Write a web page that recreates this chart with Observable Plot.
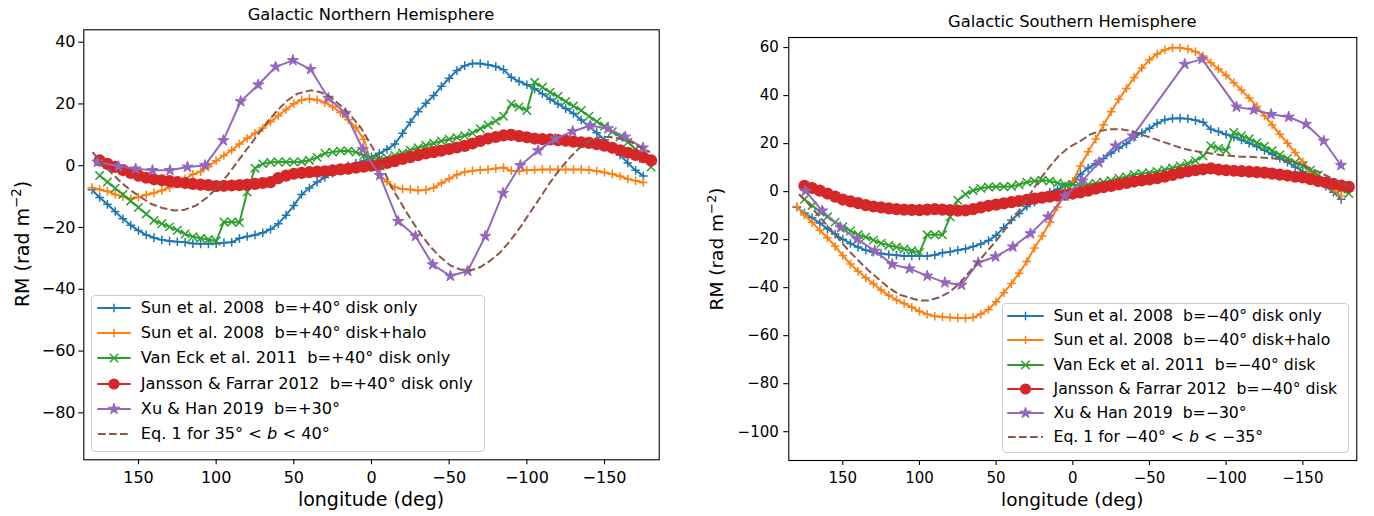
<!DOCTYPE html>
<html>
<head>
<meta charset="utf-8">
<script src="https://cdn.jsdelivr.net/npm/d3@7"></script>
<script src="https://cdn.jsdelivr.net/npm/@observablehq/plot@0.6"></script>
<style>
body{margin:0;background:#fff;font-family:"DejaVu Sans",sans-serif;}
#wrap{position:relative;width:1374px;height:516px;overflow:hidden;background:#fff;}
#wrap svg.plot{position:absolute;top:0;}
.txt{position:absolute;white-space:pre;color:#000;font-family:"DejaVu Sans",sans-serif;}
.legend{position:absolute;background:rgba(255,255,255,0.8);border:1px solid #cccccc;border-radius:4px;box-sizing:border-box;}
.legend svg{position:absolute;overflow:visible;}
</style>
</head>
<body>
<div id="wrap"></div>
<script>
// ---------- data ----------
const lonA = [180,175,170,165,160,155,150,145,140,135,130,125,120,115,110,105,100,95,90,85,80,75,70,65,60,55,50,45,40,35,30,25,20,15,10,5,0,-5,-10,-15,-20,-25,-30,-35,-40,-45,-50,-55,-60,-65,-70,-75,-80,-85,-90,-95,-100,-105,-110,-115,-120,-125,-130,-135,-140,-145,-150,-155,-160,-165,-170,-175];
const lonB = [175,170,165,160,155,150,145,140,135,130,125,120,115,110,105,100,95,90,85,80,75,70,65,60,55,50,45,40,35,30,25,20,15,10,5,0,-5,-10,-15,-20,-25,-30,-35,-40,-45,-50,-55,-60,-65,-70,-75,-80,-85,-90,-95,-100,-105,-110,-115,-120,-125,-130,-135,-140,-145,-150,-155,-160,-165,-170,-175,-180];

// Northern hemisphere
const northSunDisk = [-7.8,-10.3,-12.5,-14.8,-17.2,-19.3,-21,-22.4,-23.3,-24,-24.4,-24.6,-24.8,-25.2,-25.3,-25.3,-25.2,-24.9,-24.8,-23.5,-22.9,-22.4,-21.7,-20.6,-18.8,-16,-12.9,-9.3,-7.2,-5.3,-3.8,-2.4,-1,0,0.8,1.5,2.9,4,5.3,7,10.5,14.1,17.5,20.2,22.7,25.7,28.3,30.8,32.4,33.1,33.1,32.7,32.1,31.1,28.6,27.3,26.2,24.9,23.3,21.5,20,18.5,16.9,14.8,12.7,10.7,8.4,6,3.5,0.9,-1.5,-3.3];
const northSunHalo = [-7.1,-7.7,-8.3,-9.3,-10,-10.7,-10.2,-9.4,-8.8,-8,-7.1,-5.7,-4.3,-2.8,-1.9,-0.3,1.6,3.3,5,7,8.9,10.5,12.2,14.2,16.2,18.2,20.1,21.3,21.7,21.3,20.4,19.1,17.2,14.9,12.3,8.6,0.5,-2.8,-5.2,-7,-7.5,-7.7,-8,-7.8,-7.1,-5.6,-4.2,-2.9,-2,-1.6,-1.4,-1.2,-0.9,-0.6,-1.6,-1.7,-1.5,-1.3,-1.2,-1.2,-1.2,-1.2,-1.2,-1.2,-1.4,-1.7,-2.2,-2.7,-3.4,-4.3,-4.9,-5.4];
const northVanEck = [-3.2,-5.3,-7.3,-9.3,-11.4,-13.5,-15.6,-17.7,-18.8,-19.8,-20.9,-22.1,-23,-23.5,-23.9,-24.4,-18.2,-18.2,-18.4,-8.5,-0.8,0.6,1.1,1.2,1.2,1.2,1.3,1.8,2.7,4,4.4,4.8,4.8,4.4,3.3,2.4,2.2,2.6,3.3,4.1,5,5.8,6.6,7.3,8,8.6,9.1,9.7,10.6,12,13.2,14.5,16,20,19,17.9,27,25.4,23.8,22.4,20.8,19.3,17.9,16,14.3,12.8,11,9.3,7.6,5.3,2.4,-0.4];
const northJF = [1.7,0.6,-0.4,-1.4,-2.3,-3.2,-3.9,-4.4,-4.7,-5,-5.3,-5.6,-5.9,-6.1,-6.3,-6.6,-6.5,-6.4,-6.3,-6.1,-5.9,-5.6,-5.3,-4,-3.2,-2.6,-2.3,-2.1,-1.9,-1.8,-1.5,-1.2,-1,-0.6,-0.3,0,0.3,0.9,1.5,2.2,2.8,3.4,4,4.4,4.9,5.4,5.9,6.4,7.2,8,8.8,9.3,9.8,10,9.6,9.2,8.8,8.6,8.5,8.3,8.1,7.8,7.6,7.4,7,6.5,5.8,5,4.2,3.5,2.8,1.7];
const northXuLon = [176.4,162.9,151.8,141,129.7,118.5,107.2,95.4,84.2,72.9,61.7,50.6,39.2,27.8,16.7,5.6,-5.3,-17.2,-28.3,-39.4,-50.8,-61.9,-73.3,-84.7,-95.8,-107.2,-118.3,-129.5,-140.9,-152.2,-163.3,-174.7];
const northXu = [1.2,-0.2,-1,-1.5,-1.5,-0.4,0.1,8.2,20.8,26.2,32,34.1,31.2,21.9,17,5.3,-3.1,-18,-22.8,-32,-35.7,-34.1,-22.8,-8.9,0.1,4.9,8.7,11.1,13,12,9.3,5.8];
const northEqLon = [179.6,174.2,167.8,161.4,155,148.5,142.1,134.6,127.1,120.6,113.1,105.6,99.2,92.8,86.4,80,73.5,67.1,60.6,54.2,47.8,39.2,32.8,26.3,19.9,13.5,7.1,0.6,-5.3,-12.2,-18.7,-25.1,-31.5,-38,-44.4,-50.8,-57.2,-63.7,-70.1,-76.5,-83,-89.4,-95.8,-102.3,-108.7,-115.1,-121.5,-128,-134.4,-140.8,-147.3,-153.7,-160.1,-166.6,-173,-179.4];
const northEq = [4.4,1.2,-2.1,-5.3,-8,-10.2,-12.3,-13.7,-14.5,-14.3,-12.9,-10.2,-6.9,-3.1,1.2,5.5,9.8,14.1,17.9,21.1,23.3,24.4,23.8,22.2,19.5,16.3,12.5,7.0,1.7,-6.4,-11.8,-17.2,-22,-26.3,-29.6,-32.3,-33.6,-33.9,-32.8,-30.7,-28,-24.2,-19.9,-15,-10.2,-5.3,-1,2.8,6,8.2,9.3,9.3,8.7,7.7,6,4.4];

// Southern hemisphere
const southSunDisk = [-6.5,-8.9,-10.9,-13.1,-15.5,-17.7,-19.8,-21.6,-23.1,-24.4,-25.2,-25.8,-26.2,-26.5,-26.8,-26.8,-26.8,-26.8,-26.4,-25.5,-25,-24.4,-23.8,-22.9,-21.8,-20.4,-18.2,-15,-11.8,-9.1,-6.2,-4.4,-2.1,-0.2,1,2.3,4.1,7.2,9.8,11.7,13.8,16,18.1,20,22.6,24.5,26.4,28.4,29.9,30.5,30.6,30.4,29.7,28.9,26,25,23.8,22.7,21.5,20.2,18.8,17.2,15.6,13.9,12.3,10.3,8.4,6.6,4.7,2.2,-0.3,-3.2];
const southSunHalo = [-6.2,-9.7,-12.8,-16.1,-19.2,-22.8,-26.6,-30.2,-33.2,-35.9,-38.4,-41,-43.2,-45.1,-46.6,-48.2,-49.8,-51.1,-51.9,-52.2,-52.4,-52.6,-52.7,-52.4,-51,-49.1,-45.9,-42.1,-38.3,-34,-29.1,-23.5,-18.5,-12.8,-6.4,-0.5,4.3,10.7,16.6,21.9,27.7,33.3,38.5,43,47.5,51.5,54.9,57.3,59.1,59.9,59.9,59.4,58.3,56.5,53.7,51.1,48.5,45.4,42.3,39,35.5,31.6,27.8,23.9,20.1,16.3,12.4,8.6,5.4,2.8,0.8,-1.8];
const southVanEck = [-3.2,-5.8,-8.4,-10.5,-12.7,-14.6,-16.4,-17.9,-18.9,-20.2,-21.5,-22.4,-23.1,-23.9,-24.6,-25.3,-18,-18,-18,-10.5,-3.6,-1.1,0.5,1.4,1.9,2,2,2.2,2.9,3.9,4.4,4.7,4.4,3.6,2.8,3,2.4,2.9,3.5,4,4.6,5.6,6.2,7.1,7.6,7.9,8.4,9.1,9.9,10.7,11.7,12.9,14.8,19.1,18,17.1,24.6,23.3,22,20.4,18.9,17.1,15.3,13.8,12.2,10.8,8.9,6.9,4.4,2.5,1.1,-0.8];
const southJF = [2.4,1.5,0.4,-0.8,-2.1,-3.3,-4.1,-4.8,-5.6,-6.2,-6.6,-7,-7.3,-7.5,-7.6,-7.7,-7.5,-7.3,-7.5,-7.7,-7.9,-7.8,-7.3,-6.6,-5.9,-5.4,-4.9,-4.4,-3.9,-3.4,-2.9,-2.5,-2.1,-1.7,-1.3,-0.8,-0.3,0.4,1.2,1.9,2.4,3,3.6,4.2,4.7,5.1,5.6,6.2,7,7.8,8.4,8.9,9.3,9.7,9.2,8.9,8.7,8.5,8.3,8.1,7.9,7.5,7.1,6.7,6.2,5.9,5.2,4.4,3.8,3.2,2.5,2];
const southXuLon = [174.3,163.4,151.4,140.6,129.1,117.8,106.5,94.9,83.4,72.6,61.7,50.4,39.1,27.6,16.1,5.2,-6.1,-17,-27.8,-39.1,-73,-84.3,-106.7,-118,-129.3,-140.8,-152.1,-163.6,-174.9];
const southXu = [0.3,-8,-15,-19.8,-24.7,-30.3,-32.1,-35.1,-37.9,-38.9,-29.6,-27.1,-23,-17.5,-10.5,-1.8,4.5,12.1,19.1,23.2,53.1,55.2,35.3,34.1,32.2,31.1,28.1,21.1,11];
const southEqLon = [178.6,172.1,165.6,159,152.5,146,139.5,133,126.5,120,113.4,106.9,100.4,93.9,87.3,80.8,74.3,67.8,61.3,54.7,48.2,41.7,35.2,28.7,22.2,15.6,9.1,2.6,-5,-11.5,-18.1,-24.6,-31.1,-37.6,-44.1,-50.7,-57.2,-63.7,-70.2,-76.7,-83.2,-89.8,-96.3,-102.8,-109.3,-115.8,-122.4,-128.9,-135.4,-141.9,-148.4,-155,-161.5,-168,-174.5,-181];
const southEq = [-1.1,-5.3,-10.1,-15,-19.8,-24.7,-28.9,-33,-36.5,-40,-42.8,-44.1,-45.3,-45.3,-44.1,-42,-38.6,-33.7,-28.9,-24,-19.1,-13.6,-8,-1.8,4.5,10,14.9,18.4,21.1,23.9,25.3,26,26,25.3,23.9,22.5,21.1,19.7,18.3,17.2,16.5,15.9,15.3,14.9,14.5,14.5,14.2,13.9,13.5,12.5,11.4,9.7,7.9,5.8,3.8,1.7];

const xTicks = [150,100,50,0,-50,-100,-150];
const northYTicks = [40,20,0,-20,-40,-60,-80];
const southYTicks = [60,40,20,0,-20,-40,-60,-80,-100];

const northLabels = [
  "Sun et al. 2008  b=+40° disk only",
  "Sun et al. 2008  b=+40° disk+halo",
  "Van Eck et al. 2011  b=+40° disk only",
  "Jansson &amp; Farrar 2012  b=+40° disk only",
  "Xu &amp; Han 2019  b=+30°",
  "Eq. 1 for 35° &lt; <i>b</i> &lt; 40°"
];
const southLabels = [
  "Sun et al. 2008  b=−40° disk only",
  "Sun et al. 2008  b=−40° disk+halo",
  "Van Eck et al. 2011  b=−40° disk",
  "Jansson &amp; Farrar 2012  b=−40° disk",
  "Xu &amp; Han 2019  b=−30°",
  "Eq. 1 for −40° &lt; <i>b</i> &lt; −35°"
];

// ---------- styling ----------
const C = {blue:"#1f77b4", orange:"#ff7f0e", green:"#2ca02c", red:"#d62728", purple:"#9467bd", brown:"#8c564b"};
const SYM = {
  plus: {symbol:"plus", r:2.9, sw:1.5},
  times: {symbol:"times", r:3.9, sw:1.5},
  star: {symbol:"star", r:3.5, sw:1},
  dot: {r:6.1}
};
const fmt = d => d < 0 ? "\u2212" + Math.abs(d) : String(d);
const rows = (lon, v) => lon.map((l, i) => ({lon: l, rm: v[i]}));

function panel(o) {
  const x = "lon", y = "rm";
  const B = rows(lonA, o.blue), O = rows(lonA, o.orange), G = rows(lonB, o.green),
        R = rows(lonB, o.red), P = rows(o.xuLon, o.xu), E = rows(o.eqLon, o.eq);
  return Plot.plot({
    width: o.width, height: 516,
    marginLeft: o.ml, marginRight: o.mr, marginTop: o.mt, marginBottom: o.mb,
    x: {domain: [185.2, -185.2]},
    y: {domain: o.ydom},
    style: {fontFamily: "DejaVu Sans", fontSize: o.fs + "px", background: "transparent", overflow: "visible", color: "black"},
    marks: [
      Plot.line(B, {x, y, stroke: C.blue, strokeWidth: 2}),
      Plot.dot(B, {x, y, symbol: "plus", r: SYM.plus.r, stroke: C.blue, fill: "none", strokeWidth: SYM.plus.sw}),
      Plot.line(O, {x, y, stroke: C.orange, strokeWidth: 2}),
      Plot.dot(O, {x, y, symbol: "plus", r: SYM.plus.r, stroke: C.orange, fill: "none", strokeWidth: SYM.plus.sw}),
      Plot.line(G, {x, y, stroke: C.green, strokeWidth: 2}),
      Plot.dot(G, {x, y, symbol: "times", r: SYM.times.r, stroke: C.green, fill: "none", strokeWidth: SYM.times.sw}),
      Plot.line(R, {x, y, stroke: C.red, strokeWidth: 2}),
      Plot.dot(R, {x, y, r: SYM.dot.r, fill: C.red, stroke: "none"}),
      Plot.line(P, {x, y, stroke: C.purple, strokeWidth: 2}),
      Plot.dot(P, {x, y, symbol: "star", r: SYM.star.r, fill: C.purple, stroke: C.purple, strokeWidth: SYM.star.sw}),
      Plot.line(E, {x, y, stroke: C.brown, strokeWidth: 2, strokeDasharray: "7.7,3.3", strokeLinecap: "butt"}),
      Plot.axisX({ticks: xTicks, tickFormat: fmt, tickSize: 5, tickPadding: 7, fontSize: o.fs, label: null, strokeWidth: 1.1}),
      Plot.axisY({ticks: o.yticks, tickFormat: fmt, tickSize: 5, tickPadding: o.ypad, fontSize: o.fs, label: null, strokeWidth: 1.1}),
      Plot.frame({stroke: "black", strokeWidth: 1.1})
    ]
  });
}

const wrap = document.getElementById("wrap");

function place(svg, left) {
  svg.classList.add("plot");
  svg.style.left = left + "px";
  wrap.appendChild(svg);
}

place(panel({
  width: 690, ml: 83.3, mr: 31.3, mt: 29.3, mb: 56.7, fs: 16, ypad: 3.3,
  ydom: [-95.2, 44], yticks: northYTicks,
  blue: northSunDisk, orange: northSunHalo, green: northVanEck, red: northJF,
  xuLon: northXuLon, xu: northXu, eqLon: northEqLon, eq: northEq
}), 0);

place(panel({
  width: 684, ml: 98.3, mr: 17.7, mt: 37, mb: 56, fs: 15, ypad: 5,
  ydom: [-112, 64.2], yticks: southYTicks,
  blue: southSunDisk, orange: southSunHalo, green: southVanEck, red: southJF,
  xuLon: southXuLon, xu: southXu, eqLon: southEqLon, eq: southEq
}), 690);

// ---------- text ----------
function text(html, x, baseline, size) {
  const d = document.createElement("div");
  d.className = "txt";
  d.innerHTML = html;
  d.style.fontSize = size + "px";
  d.style.lineHeight = size + "px";
  d.style.left = x + "px";
  d.style.top = (baseline - 0.83 * size) + "px";
  d.style.transform = "translateX(-50%)";
  wrap.appendChild(d);
  return d;
}
function vtext(html, cx, cy, size) {
  const d = document.createElement("div");
  d.className = "txt";
  d.innerHTML = html;
  d.style.fontSize = size + "px";
  d.style.lineHeight = (size * 1.2) + "px";
  d.style.left = cx + "px";
  d.style.top = cy + "px";
  d.style.transform = "translate(-50%,-50%) rotate(-90deg)";
  wrap.appendChild(d);
}

text("Galactic Northern Hemisphere", 371, 20.5, 16.3);
text("Galactic Southern Hemisphere", 1072.3, 28, 16.3);
text("longitude (deg)", 371, 506, 19);
text("longitude (deg)", 1072.3, 506, 18.5);
vtext("RM (rad m<sup style='font-size:0.7em;vertical-align:0.55em;line-height:0'>\u22122</sup>)", 21.7, 244.3, 19);
vtext("RM (rad m<sup style='font-size:0.7em;vertical-align:0.55em;line-height:0'>\u22122</sup>)", 716.7, 248.5, 18.5);

// ---------- legends ----------
const handles = [
  {color: C.blue, sym: "plus"},
  {color: C.orange, sym: "plus"},
  {color: C.green, sym: "times"},
  {color: C.red, sym: "dot"},
  {color: C.purple, sym: "star"},
  {color: C.brown, dash: "7.7,3.3"}
];
const symMap = {plus: d3.symbolPlus, times: d3.symbolTimes, star: d3.symbolStar};

function legend(o) {
  const box = document.createElement("div");
  box.className = "legend";
  Object.assign(box.style, {left: o.left + "px", top: o.top + "px", width: o.w + "px", height: o.h + "px"});
  handles.forEach((h, i) => {
    const cy = o.row0 + i * o.rowH;
    const svg = d3.create("svg").attr("width", o.hw).attr("height", 20)
      .style("left", o.hx + "px").style("top", (cy - 10) + "px");
    svg.append("line").attr("x1", 0).attr("x2", o.hw).attr("y1", 10).attr("y2", 10)
      .attr("stroke", h.color).attr("stroke-width", 2)
      .attr("stroke-dasharray", h.dash || null).attr("stroke-linecap", h.dash ? "butt" : "round");
    if (h.sym === "dot") {
      svg.append("circle").attr("cx", o.hw / 2).attr("cy", 10).attr("r", 5.6).attr("fill", h.color);
    } else if (h.sym) {
      const s = SYM[h.sym];
      svg.append("path").attr("transform", `translate(${o.hw / 2},10)`)
        .attr("d", d3.symbol(symMap[h.sym], Math.PI * s.r * s.r)())
        .attr("fill", h.sym === "star" ? h.color : "none")
        .attr("stroke", h.color).attr("stroke-width", s.sw);
    }
    box.appendChild(svg.node());
    const t = document.createElement("div");
    t.className = "txt";
    t.innerHTML = o.labels[i];
    t.style.fontSize = o.fs + "px";
    t.style.lineHeight = "20px";
    t.style.left = o.tx + "px";
    t.style.top = (cy - 10) + "px";
    box.appendChild(t);
  });
  wrap.appendChild(box);
}

legend({left: 90.8, top: 295, w: 394, h: 157, row0: 12, rowH: 25.2, hx: 6, hw: 32, tx: 49, fs: 16.2, labels: northLabels});
legend({left: 1002, top: 302.7, w: 347, h: 150, row0: 12.6, rowH: 24.2, hx: 4.5, hw: 35, tx: 50.5, fs: 15.7, labels: southLabels});
</script>
</body>
</html>
